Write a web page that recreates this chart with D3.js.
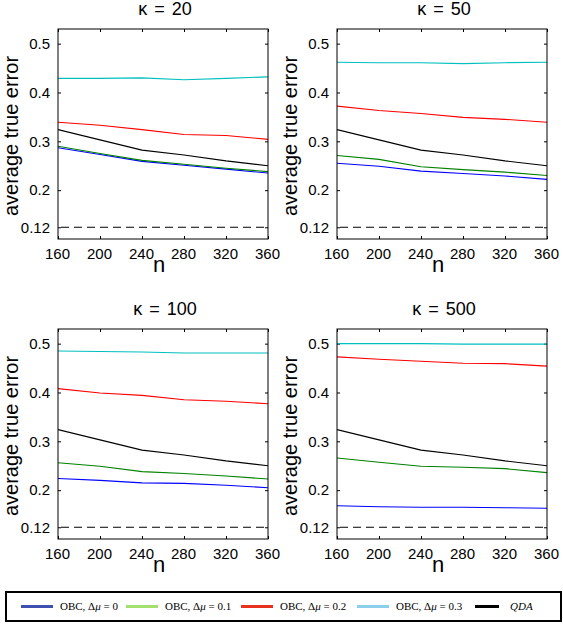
<!DOCTYPE html>
<html><head><meta charset="utf-8">
<script src="https://cdn.jsdelivr.net/npm/d3@7"></script>
<style>body{margin:0;background:#fff}svg{display:block}</style>
</head><body>
<script>
// ---- data ----
const nValues = [160, 200, 240, 280, 320, 360];
const kappas = [20, 50, 100, 500];
const qda = [0.324, 0.303, 0.282, 0.272, 0.260, 0.250];
const bayesError = 0.124;
const k20_dmu0  = [0.287, 0.273, 0.259, 0.251, 0.243, 0.235];
const k20_dmu01 = [0.290, 0.275, 0.261, 0.253, 0.245, 0.238];
const k20_dmu02 = [0.339, 0.333, 0.324, 0.314, 0.312, 0.304];
const k20_dmu03 = [0.429, 0.429, 0.430, 0.426, 0.429, 0.432];
const k50_dmu0  = [0.255, 0.249, 0.239, 0.234, 0.229, 0.222];
const k50_dmu01 = [0.271, 0.263, 0.248, 0.242, 0.237, 0.230];
const k50_dmu02 = [0.372, 0.363, 0.357, 0.349, 0.345, 0.339];
const k50_dmu03 = [0.462, 0.461, 0.461, 0.459, 0.461, 0.462];
const k100_dmu0  = [0.224, 0.220, 0.215, 0.214, 0.210, 0.205];
const k100_dmu01 = [0.256, 0.249, 0.238, 0.234, 0.229, 0.223];
const k100_dmu02 = [0.408, 0.399, 0.394, 0.385, 0.382, 0.377];
const k100_dmu03 = [0.485, 0.484, 0.483, 0.481, 0.481, 0.481];
const k500_dmu0  = [0.168, 0.166, 0.165, 0.165, 0.164, 0.163];
const k500_dmu01 = [0.266, 0.257, 0.249, 0.247, 0.244, 0.236];
const k500_dmu02 = [0.473, 0.468, 0.464, 0.460, 0.459, 0.454];
const k500_dmu03 = [0.500, 0.500, 0.500, 0.499, 0.499, 0.499];
const xTicks = [160, 200, 240, 280, 320, 360];
const yTicks = [0.124, 0.2, 0.3, 0.4, 0.5];
const yTickLabels = ["0.12", "0.2", "0.3", "0.4", "0.5"];
const seriesNames = ["0", "0.1", "0.2", "0.3"];
const panelSeries = [
  [k20_dmu0, k20_dmu01, k20_dmu02, k20_dmu03],
  [k50_dmu0, k50_dmu01, k50_dmu02, k50_dmu03],
  [k100_dmu0, k100_dmu01, k100_dmu02, k100_dmu03],
  [k500_dmu0, k500_dmu01, k500_dmu02, k500_dmu03]
];

// ---- styles ----
const lineColors = ["#0000ff", "#008000", "#ff0000", "#00bfbf"];
const legendColors = ["#3f51b0", "#a3e070", "#e8321e", "#8ccfec", "#000000"];
const W = 563, H = 624;
const panelPos = [[58, 29], [337, 29], [58, 329], [337, 329]];
const pw = 210, ph = 210;

const svg = d3.select("body").append("svg").attr("width", W).attr("height", H)
  .style("font-family", "'Liberation Sans', Arial, sans-serif");

kappas.forEach((k, i) => {
  const [px, py] = panelPos[i];
  const g = svg.append("g").attr("transform", `translate(${px},${py})`);
  const x = d3.scaleLinear().domain([160, 360]).range([0, pw]);
  const y = d3.scaleLinear().domain([0.1, 0.53]).range([ph, 0]);

  // axes with inward ticks
  const ax = d3.axisBottom(x).tickValues(xTicks).tickSizeInner(-3).tickSizeOuter(0).tickPadding(9);
  const gx = g.append("g").attr("transform", `translate(0,${ph})`).call(ax);
  gx.select(".domain").remove();
  gx.selectAll("text").attr("font-size", 15).attr("fill", "#000").attr("dx", -1);
  gx.selectAll("line").attr("stroke", "#000");
  const axT = d3.axisTop(x).tickValues(xTicks).tickSizeInner(-3).tickSizeOuter(0).tickFormat("");
  const gxt = g.append("g").call(axT);
  gxt.select(".domain").remove();

  const ay = d3.axisLeft(y).tickValues(yTicks).tickSizeInner(-3).tickSizeOuter(0).tickPadding(8)
    .tickFormat((d, j) => yTickLabels[j]);
  const gy = g.append("g").call(ay);
  gy.select(".domain").remove();
  gy.selectAll("text").attr("font-size", 15).attr("fill", "#000");
  const ayr = d3.axisRight(y).tickValues(yTicks).tickSizeInner(-3).tickSizeOuter(0).tickFormat("");
  const gyr = g.append("g").attr("transform", `translate(${pw},0)`).call(ayr);
  gyr.select(".domain").remove();

  const clipId = "clip" + i;
  g.append("clipPath").attr("id", clipId).append("rect").attr("width", pw).attr("height", ph);
  const plot = g.append("g").attr("clip-path", `url(#${clipId})`);

  const line = d3.line().x((d, j) => x(nValues[j])).y(d => y(d));

  // bayes error dashed
  plot.append("line").attr("x1", x(160) + 3).attr("x2", x(360) - 3)
    .attr("y1", y(bayesError)).attr("y2", y(bayesError))
    .attr("stroke", "#000").attr("stroke-width", 1.1).attr("stroke-dasharray", "8,5");

  // QDA
  plot.append("path").datum(qda).attr("d", line).attr("fill", "none")
    .attr("stroke", "#000").attr("stroke-width", 1.1);
  panelSeries[i].forEach((s, si) => {
    plot.append("path").datum(s).attr("d", line).attr("fill", "none")
      .attr("stroke", lineColors[si]).attr("stroke-width", 1.1);
  });

  // frame
  g.append("rect").attr("width", pw).attr("height", ph).attr("fill", "none")
    .attr("stroke", "#000").attr("stroke-width", 1);

  // title
  g.append("text").attr("x", pw / 2 + 2).attr("y", -14).attr("text-anchor", "middle")
    .attr("font-size", 18).attr("word-spacing", 2).text(`\u03BA = ${k}`);
  // x label
  g.append("text").attr("x", pw / 2 - 4).attr("y", ph + 33).attr("text-anchor", "middle")
    .attr("font-size", 22).text("n");
  // y label
  g.append("text").attr("transform", `translate(${-40},${ph / 2 + 2}) rotate(-90)`)
    .attr("text-anchor", "middle").attr("font-size", 20).text("average true error");
});

// ---- legend ----
const lg = svg.append("g").attr("font-family", "'Liberation Serif', 'Times New Roman', serif")
  .attr("font-size", 11);
lg.append("rect").attr("x", 6).attr("y", 592).attr("width", 555).attr("height", 29)
  .attr("fill", "#fff").attr("stroke", "#000").attr("stroke-width", 2);
const legendX = [21, 126, 241, 357, 466];
const legendLabels = seriesNames.map(s => ({ pre: "OBC, \u0394", mu: "\u03BC", post: ` = ${s}` }));
legendLabels.push({ qda: "QDA" });
legendLabels.forEach((l, i) => {
  const lx = legendX[i];
  const len = i === 4 ? 24 : 32;
  lg.append("line").attr("x1", lx + (i === 4 ? 9 : 0)).attr("x2", lx + (i === 4 ? 9 : 0) + len)
    .attr("y1", 606.5).attr("y2", 606.5)
    .attr("stroke", legendColors[i]).attr("stroke-width", 3);
  const t = lg.append("text").attr("x", lx + (i === 4 ? 44 : 39)).attr("y", 610);
  if (l.qda) {
    t.append("tspan").attr("font-style", "italic").text(l.qda);
  } else {
    t.append("tspan").text(l.pre);
    t.append("tspan").attr("font-style", "italic").text(l.mu);
    t.append("tspan").text(l.post);
  }
});
</script>
</body></html>
